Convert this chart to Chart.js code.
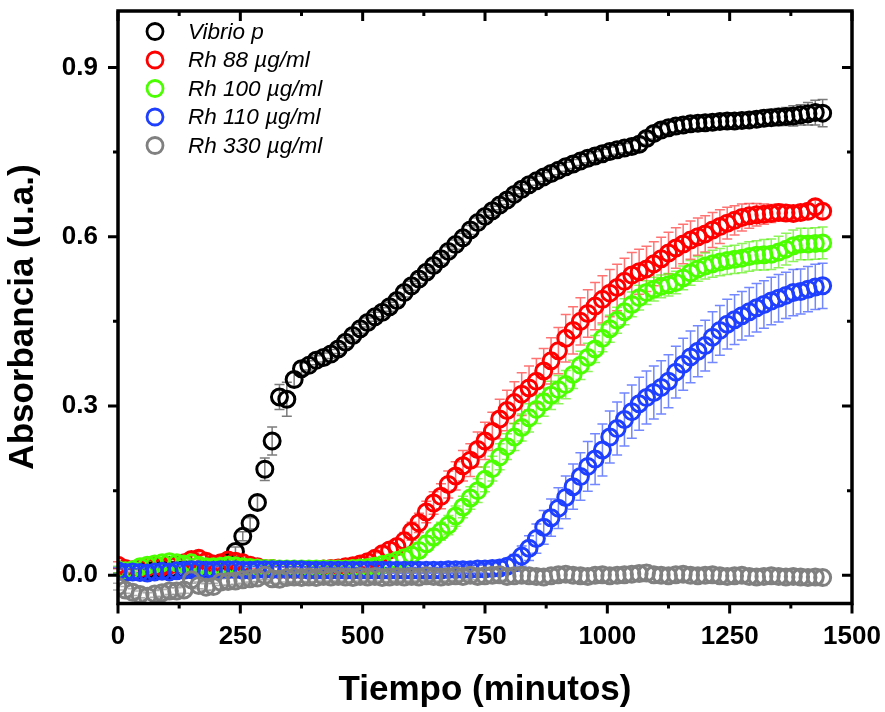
<!DOCTYPE html>
<html>
<head>
<meta charset="utf-8">
<script src="https://cdn.jsdelivr.net/npm/chart.js@4.4.1/dist/chart.umd.min.js"></script>
<style>
  html, body { margin: 0; padding: 0; background: #fff; }
  #wrap { width: 885px; height: 712px; }
</style>
</head>
<body>
<div id="wrap"><canvas id="chart" width="885" height="712"></canvas></div>
<script>
// time grid, one reading every 15 min (0..1440)
const tiempo = Array.from({ length: 97 }, (_, i) => i * 15);

const labels = ['Vibrio p', 'Rh 88 µg/ml', 'Rh 100 µg/ml', 'Rh 110 µg/ml', 'Rh 330 µg/ml'];
const colors = ['#000000', '#ff0000', '#4cff00', '#1f3fff', '#808080'];
const errColors = ['rgba(90,90,90,0.8)', 'rgba(255,40,40,0.65)', 'rgba(80,240,0,0.65)', 'rgba(40,70,255,0.65)', 'rgba(140,140,140,0.7)'];

const xTicks = [0, 250, 500, 750, 1000, 1250, 1500];
const yTicks = [0.0, 0.3, 0.6, 0.9];

const vibrio = [
  0.008, 0.006, 0.007, 0.008, 0.008, 0.008, 0.009, 0.009, 0.009, 0.010,
  0.010, 0.010, 0.011, 0.012, 0.014, 0.022, 0.042, 0.069, 0.092, 0.129,
  0.188, 0.238, 0.316, 0.312, 0.347, 0.366, 0.372, 0.381, 0.386, 0.392,
  0.401, 0.413, 0.425, 0.437, 0.448, 0.458, 0.466, 0.476, 0.487, 0.501,
  0.513, 0.525, 0.537, 0.549, 0.561, 0.574, 0.586, 0.598, 0.612, 0.625,
  0.636, 0.646, 0.656, 0.665, 0.675, 0.684, 0.692, 0.699, 0.706, 0.712,
  0.718, 0.724, 0.729, 0.734, 0.739, 0.743, 0.747, 0.751, 0.754, 0.757,
  0.760, 0.764, 0.774, 0.783, 0.789, 0.793, 0.796, 0.798, 0.800, 0.801,
  0.802, 0.803, 0.804, 0.805, 0.805, 0.806, 0.807, 0.808, 0.810, 0.811,
  0.812, 0.813, 0.814, 0.816, 0.818, 0.820, 0.819
];
const vibrioErr = [
  0.004, 0.004, 0.004, 0.004, 0.004, 0.004, 0.004, 0.004, 0.004, 0.004,
  0.004, 0.004, 0.004, 0.005, 0.005, 0.006, 0.008, 0.008, 0.010, 0.012,
  0.020, 0.025, 0.022, 0.030, 0.012, 0.010, 0.008, 0.008, 0.008, 0.008,
  0.008, 0.008, 0.008, 0.008, 0.008, 0.008, 0.008, 0.008, 0.008, 0.008,
  0.008, 0.008, 0.008, 0.008, 0.008, 0.008, 0.008, 0.008, 0.008, 0.008,
  0.008, 0.008, 0.008, 0.008, 0.008, 0.008, 0.008, 0.008, 0.008, 0.008,
  0.008, 0.008, 0.008, 0.008, 0.008, 0.008, 0.008, 0.008, 0.008, 0.008,
  0.010, 0.010, 0.010, 0.010, 0.010, 0.010, 0.010, 0.010, 0.010, 0.010,
  0.010, 0.010, 0.012, 0.012, 0.012, 0.012, 0.012, 0.014, 0.014, 0.015,
  0.015, 0.016, 0.018, 0.018, 0.020, 0.022, 0.024
];

const rh88 = [
  0.018, 0.012, 0.010, 0.012, 0.015, 0.018, 0.015, 0.018, 0.020, 0.022,
  0.028, 0.030, 0.025, 0.020, 0.022, 0.027, 0.025, 0.022, 0.018, 0.015,
  0.012, 0.012, 0.010, 0.010, 0.010, 0.010, 0.010, 0.010, 0.011, 0.012,
  0.013, 0.015, 0.017, 0.020, 0.024, 0.030, 0.038, 0.045, 0.051, 0.061,
  0.078, 0.093, 0.112, 0.128, 0.140, 0.161, 0.176, 0.194, 0.204, 0.223,
  0.238, 0.255, 0.277, 0.292, 0.306, 0.321, 0.332, 0.344, 0.362, 0.380,
  0.398, 0.420, 0.434, 0.450, 0.464, 0.477, 0.489, 0.500, 0.510, 0.521,
  0.532, 0.538, 0.543, 0.552, 0.561, 0.571, 0.580, 0.587, 0.594, 0.600,
  0.605, 0.612, 0.618, 0.624, 0.629, 0.634, 0.637, 0.639, 0.640, 0.641,
  0.643, 0.642, 0.641, 0.643, 0.645, 0.653, 0.645
];
const rh88Err = [
  0.006, 0.006, 0.006, 0.006, 0.006, 0.006, 0.006, 0.006, 0.008, 0.008,
  0.010, 0.012, 0.010, 0.008, 0.008, 0.008, 0.008, 0.006, 0.006, 0.006,
  0.005, 0.005, 0.005, 0.005, 0.005, 0.005, 0.005, 0.005, 0.005, 0.005,
  0.005, 0.006, 0.006, 0.007, 0.008, 0.010, 0.011, 0.012, 0.013, 0.015,
  0.016, 0.017, 0.019, 0.020, 0.022, 0.024, 0.025, 0.027, 0.029, 0.031,
  0.033, 0.034, 0.035, 0.036, 0.037, 0.038, 0.039, 0.040, 0.040, 0.041,
  0.041, 0.042, 0.042, 0.042, 0.042, 0.042, 0.042, 0.042, 0.041, 0.041,
  0.040, 0.040, 0.040, 0.039, 0.038, 0.037, 0.036, 0.035, 0.034, 0.033,
  0.032, 0.031, 0.030, 0.028, 0.026, 0.024, 0.022, 0.020, 0.018, 0.016,
  0.015, 0.014, 0.013, 0.012, 0.012, 0.012, 0.012
];

const rh100 = [
  0.010, 0.008, 0.010, 0.015, 0.018, 0.020, 0.022, 0.024, 0.022, 0.020,
  0.022, 0.018, 0.015, 0.015, 0.016, 0.018, 0.017, 0.015, 0.014, 0.013,
  0.012, 0.012, 0.011, 0.011, 0.011, 0.011, 0.011, 0.011, 0.011, 0.011,
  0.011, 0.011, 0.012, 0.013, 0.014, 0.016, 0.019, 0.022, 0.026, 0.031,
  0.036, 0.044, 0.056, 0.068, 0.078, 0.089, 0.105, 0.121, 0.137, 0.150,
  0.170, 0.189, 0.210, 0.228, 0.245, 0.262, 0.279, 0.294, 0.307, 0.319,
  0.329, 0.338, 0.356, 0.372, 0.386, 0.401, 0.420, 0.437, 0.452, 0.467,
  0.480, 0.492, 0.501, 0.507, 0.512, 0.515, 0.519, 0.527, 0.536, 0.543,
  0.548, 0.552, 0.555, 0.558, 0.560, 0.562, 0.565, 0.567, 0.568, 0.569,
  0.573, 0.578, 0.584, 0.587, 0.587, 0.588, 0.589
];
const rh100Err = [
  0.006, 0.006, 0.006, 0.006, 0.006, 0.006, 0.006, 0.006, 0.006, 0.006,
  0.006, 0.006, 0.005, 0.005, 0.005, 0.005, 0.005, 0.005, 0.005, 0.005,
  0.005, 0.005, 0.005, 0.005, 0.005, 0.005, 0.005, 0.005, 0.005, 0.005,
  0.005, 0.005, 0.005, 0.006, 0.006, 0.007, 0.008, 0.009, 0.010, 0.011,
  0.012, 0.013, 0.014, 0.015, 0.016, 0.017, 0.018, 0.019, 0.020, 0.021,
  0.022, 0.022, 0.023, 0.023, 0.024, 0.024, 0.025, 0.025, 0.025, 0.025,
  0.025, 0.025, 0.025, 0.025, 0.025, 0.024, 0.024, 0.024, 0.023, 0.023,
  0.022, 0.022, 0.021, 0.021, 0.020, 0.020, 0.020, 0.021, 0.022, 0.022,
  0.023, 0.024, 0.024, 0.025, 0.025, 0.026, 0.026, 0.026, 0.027, 0.027,
  0.028, 0.028, 0.028, 0.028, 0.028, 0.028, 0.028
];

const rh110 = [
  0.008, 0.005, 0.006, 0.005, 0.004, 0.006, 0.007, 0.006, 0.008, 0.009,
  0.010, 0.010, 0.009, 0.009, 0.010, 0.010, 0.010, 0.009, 0.009, 0.010,
  0.010, 0.010, 0.010, 0.010, 0.010, 0.010, 0.009, 0.009, 0.009, 0.009,
  0.009, 0.009, 0.009, 0.009, 0.009, 0.009, 0.009, 0.009, 0.009, 0.009,
  0.009, 0.009, 0.009, 0.009, 0.009, 0.010, 0.010, 0.010, 0.010, 0.011,
  0.011, 0.012, 0.013, 0.016, 0.022, 0.034, 0.048, 0.065, 0.085, 0.102,
  0.119, 0.138, 0.157, 0.175, 0.193, 0.206, 0.222, 0.245, 0.260, 0.276,
  0.290, 0.304, 0.315, 0.324, 0.333, 0.344, 0.360, 0.374, 0.387, 0.397,
  0.407, 0.422, 0.434, 0.445, 0.453, 0.460, 0.467, 0.474, 0.480, 0.486,
  0.491, 0.496, 0.501, 0.503, 0.507, 0.511, 0.513
];
const rh110Err = [
  0.006, 0.006, 0.006, 0.006, 0.006, 0.006, 0.006, 0.006, 0.006, 0.006,
  0.006, 0.006, 0.006, 0.006, 0.006, 0.006, 0.006, 0.006, 0.006, 0.006,
  0.005, 0.005, 0.005, 0.005, 0.005, 0.005, 0.005, 0.005, 0.005, 0.005,
  0.005, 0.005, 0.005, 0.005, 0.005, 0.005, 0.005, 0.005, 0.005, 0.005,
  0.005, 0.005, 0.005, 0.005, 0.005, 0.006, 0.006, 0.006, 0.007, 0.007,
  0.008, 0.009, 0.010, 0.012, 0.015, 0.018, 0.022, 0.026, 0.030, 0.033,
  0.036, 0.038, 0.040, 0.042, 0.044, 0.045, 0.046, 0.046, 0.047, 0.047,
  0.047, 0.047, 0.047, 0.047, 0.047, 0.047, 0.046, 0.046, 0.046, 0.045,
  0.045, 0.045, 0.044, 0.044, 0.044, 0.043, 0.043, 0.043, 0.042, 0.042,
  0.042, 0.041, 0.041, 0.040, 0.040, 0.040, 0.040
];

const rh330 = [
  -0.020, -0.026, -0.030, -0.034, -0.037, -0.033, -0.031, -0.028, -0.028, -0.026,
  -0.008, -0.018, -0.021, -0.020, -0.012, -0.011, -0.010, -0.008, -0.006, -0.005,
  0.000, -0.006, -0.007, -0.004, -0.003, -0.004, -0.003, -0.004, -0.002, -0.003,
  -0.002, -0.003, -0.004, -0.002, -0.003, -0.002, -0.004, -0.003, -0.002, -0.003,
  -0.002, -0.003, -0.001, -0.002, -0.003, -0.002, -0.001, -0.002, 0.000, -0.002,
  -0.001, 0.000, 0.001, -0.002, -0.001, 0.000, -0.001, -0.002, -0.003, -0.001,
  0.001, 0.002, 0.000, -0.001, -0.002, 0.000, 0.001, -0.001, 0.000, 0.001,
  0.002, 0.003, 0.004, 0.001, 0.000, -0.001, 0.001, 0.002, 0.000, -0.001,
  0.000, 0.001, -0.001, -0.002, -0.001, 0.000, -0.002, -0.003, -0.002, -0.001,
  -0.002, -0.003, -0.002, -0.003, -0.004, -0.003, -0.004
];
const rh330Err = [
  0.006, 0.006, 0.006, 0.006, 0.006, 0.006, 0.006, 0.006, 0.006, 0.006,
  0.006, 0.006, 0.006, 0.006, 0.006, 0.006, 0.006, 0.006, 0.006, 0.006,
  0.008, 0.008, 0.008, 0.008, 0.008, 0.008, 0.008, 0.008, 0.008, 0.008,
  0.008, 0.008, 0.008, 0.008, 0.008, 0.008, 0.008, 0.008, 0.008, 0.008,
  0.008, 0.008, 0.008, 0.008, 0.008, 0.008, 0.008, 0.008, 0.008, 0.010,
  0.010, 0.010, 0.010, 0.010, 0.010, 0.010, 0.010, 0.010, 0.010, 0.010,
  0.010, 0.010, 0.012, 0.012, 0.012, 0.012, 0.012, 0.012, 0.012, 0.012,
  0.012, 0.014, 0.014, 0.012, 0.012, 0.012, 0.012, 0.012, 0.012, 0.012,
  0.012, 0.012, 0.012, 0.012, 0.012, 0.012, 0.012, 0.012, 0.012, 0.012,
  0.012, 0.012, 0.012, 0.012, 0.012, 0.012, 0.014
];

const series = [vibrio, rh88, rh100, rh110, rh330];
const errors = [vibrioErr, rh88Err, rh100Err, rh110Err, rh330Err];

const FONT = "'Liberation Sans', Arial, sans-serif";

// error bars under the symbols
const errorBars = {
  id: 'errorBars',
  beforeDatasetsDraw(chart) {
    const ctx = chart.ctx;
    const y = chart.scales.y;
    ctx.save();
    ctx.lineWidth = 1.5;
    for (let d = 0; d < series.length; d++) {
      const meta = chart.getDatasetMeta(d);
      ctx.strokeStyle = errColors[d];
      meta.data.forEach((pt, i) => {
        const v = series[d][i];
        const e = errors[d][i];
        const top = y.getPixelForValue(v + e);
        const bot = y.getPixelForValue(v - e);
        ctx.beginPath();
        ctx.moveTo(pt.x, top); ctx.lineTo(pt.x, bot);
        ctx.moveTo(pt.x - 5, top); ctx.lineTo(pt.x + 5, top);
        ctx.moveTo(pt.x - 5, bot); ctx.lineTo(pt.x + 5, bot);
        ctx.stroke();
      });
    }
    ctx.restore();
  }
};

// box frame with major/minor ticks (out on left/bottom, in on right/top)
const frame = {
  id: 'frame',
  afterDraw(chart) {
    const ctx = chart.ctx;
    const { left, right, top, bottom } = chart.chartArea;
    const x = chart.scales.x, y = chart.scales.y;
    ctx.save();
    ctx.strokeStyle = '#000';
    ctx.lineWidth = 3.5;
    ctx.strokeRect(left, top, right - left, bottom - top);
    ctx.lineWidth = 3;
    ctx.beginPath();
    for (let v = 0; v <= 1500; v += 125) {
      const px = x.getPixelForValue(v);
      const len = v % 250 === 0 ? 10 : 5;
      ctx.moveTo(px, bottom); ctx.lineTo(px, bottom + len);
      ctx.moveTo(px, top); ctx.lineTo(px, top + len);
    }
    for (let k = 0; k <= 6; k++) {
      const v = k * 0.15;
      const py = y.getPixelForValue(v);
      const len = k % 2 === 0 ? 10 : 5;
      ctx.moveTo(left, py); ctx.lineTo(left - len, py);
      ctx.moveTo(right, py); ctx.lineTo(right - len, py);
    }
    ctx.stroke();
    ctx.restore();
  }
};

// legend inside the plot, top-left
const legendBox = {
  id: 'legendBox',
  afterDraw(chart) {
    const ctx = chart.ctx;
    ctx.save();
    ctx.font = 'italic 22.5px ' + FONT;
    ctx.textBaseline = 'middle';
    labels.forEach((lab, i) => {
      const cy = 31.5 + i * 28.5;
      ctx.beginPath();
      ctx.arc(155, cy, 8, 0, Math.PI * 2);
      ctx.lineWidth = 2.8;
      ctx.strokeStyle = colors[i];
      ctx.stroke();
      ctx.fillStyle = '#000';
      ctx.fillText(lab, 188, cy + 1);
    });
    ctx.restore();
  }
};

// first series drawn first (underneath), last series on top
const datasets = series.map((vals, d) => ({
  label: labels[d],
  order: series.length - 1 - d,
  data: tiempo.map((t, i) => ({ x: t, y: vals[i] })),
  showLine: false,
  pointStyle: 'circle',
  pointRadius: 8,
  pointBorderWidth: 3,
  pointBorderColor: colors[d],
  pointBackgroundColor: 'rgba(0,0,0,0)'
}));

new Chart(document.getElementById('chart'), {
  type: 'scatter',
  data: { datasets: datasets },
  options: {
    responsive: false,
    animation: false,
    layout: { padding: { top: 9, right: 33, left: 0, bottom: 0 } },
    plugins: { legend: { display: false }, tooltip: { enabled: false } },
    scales: {
      x: {
        type: 'linear',
        min: 0,
        max: 1500,
        afterBuildTicks: (scale) => { scale.ticks = xTicks.map(v => ({ value: v })); },
        afterFit: (scale) => { scale.height = 108.5; scale.paddingLeft = 0; scale.paddingRight = 0; },
        grid: { display: false, drawTicks: false },
        border: { display: false },
        ticks: { color: '#000', padding: 18, maxRotation: 0, font: { family: FONT, size: 26, weight: 'bold' },
                 callback: (v) => String(v) },
        title: { display: true, text: 'Tiempo (minutos)', color: '#000', padding: { top: 0, bottom: 1 },
                 font: { family: FONT, size: 35, weight: 'bold' } }
      },
      y: {
        min: -0.05,
        max: 1.0,
        afterBuildTicks: (scale) => { scale.ticks = yTicks.map(v => ({ value: v })); },
        afterFit: (scale) => { scale.width = 118; scale.paddingTop = 0; scale.paddingBottom = 0; },
        grid: { display: false, drawTicks: false },
        border: { display: false },
        ticks: { color: '#000', padding: 20, font: { family: FONT, size: 26, weight: 'bold' },
                 callback: (v) => v.toFixed(1) },
        title: { display: true, text: 'Absorbancia (u.a.)  ', color: '#000', padding: { top: 2, bottom: 0 },
                 font: { family: FONT, size: 35, weight: 'bold' } }
      }
    }
  },
  plugins: [errorBars, frame, legendBox]
});
</script>
</body>
</html>
